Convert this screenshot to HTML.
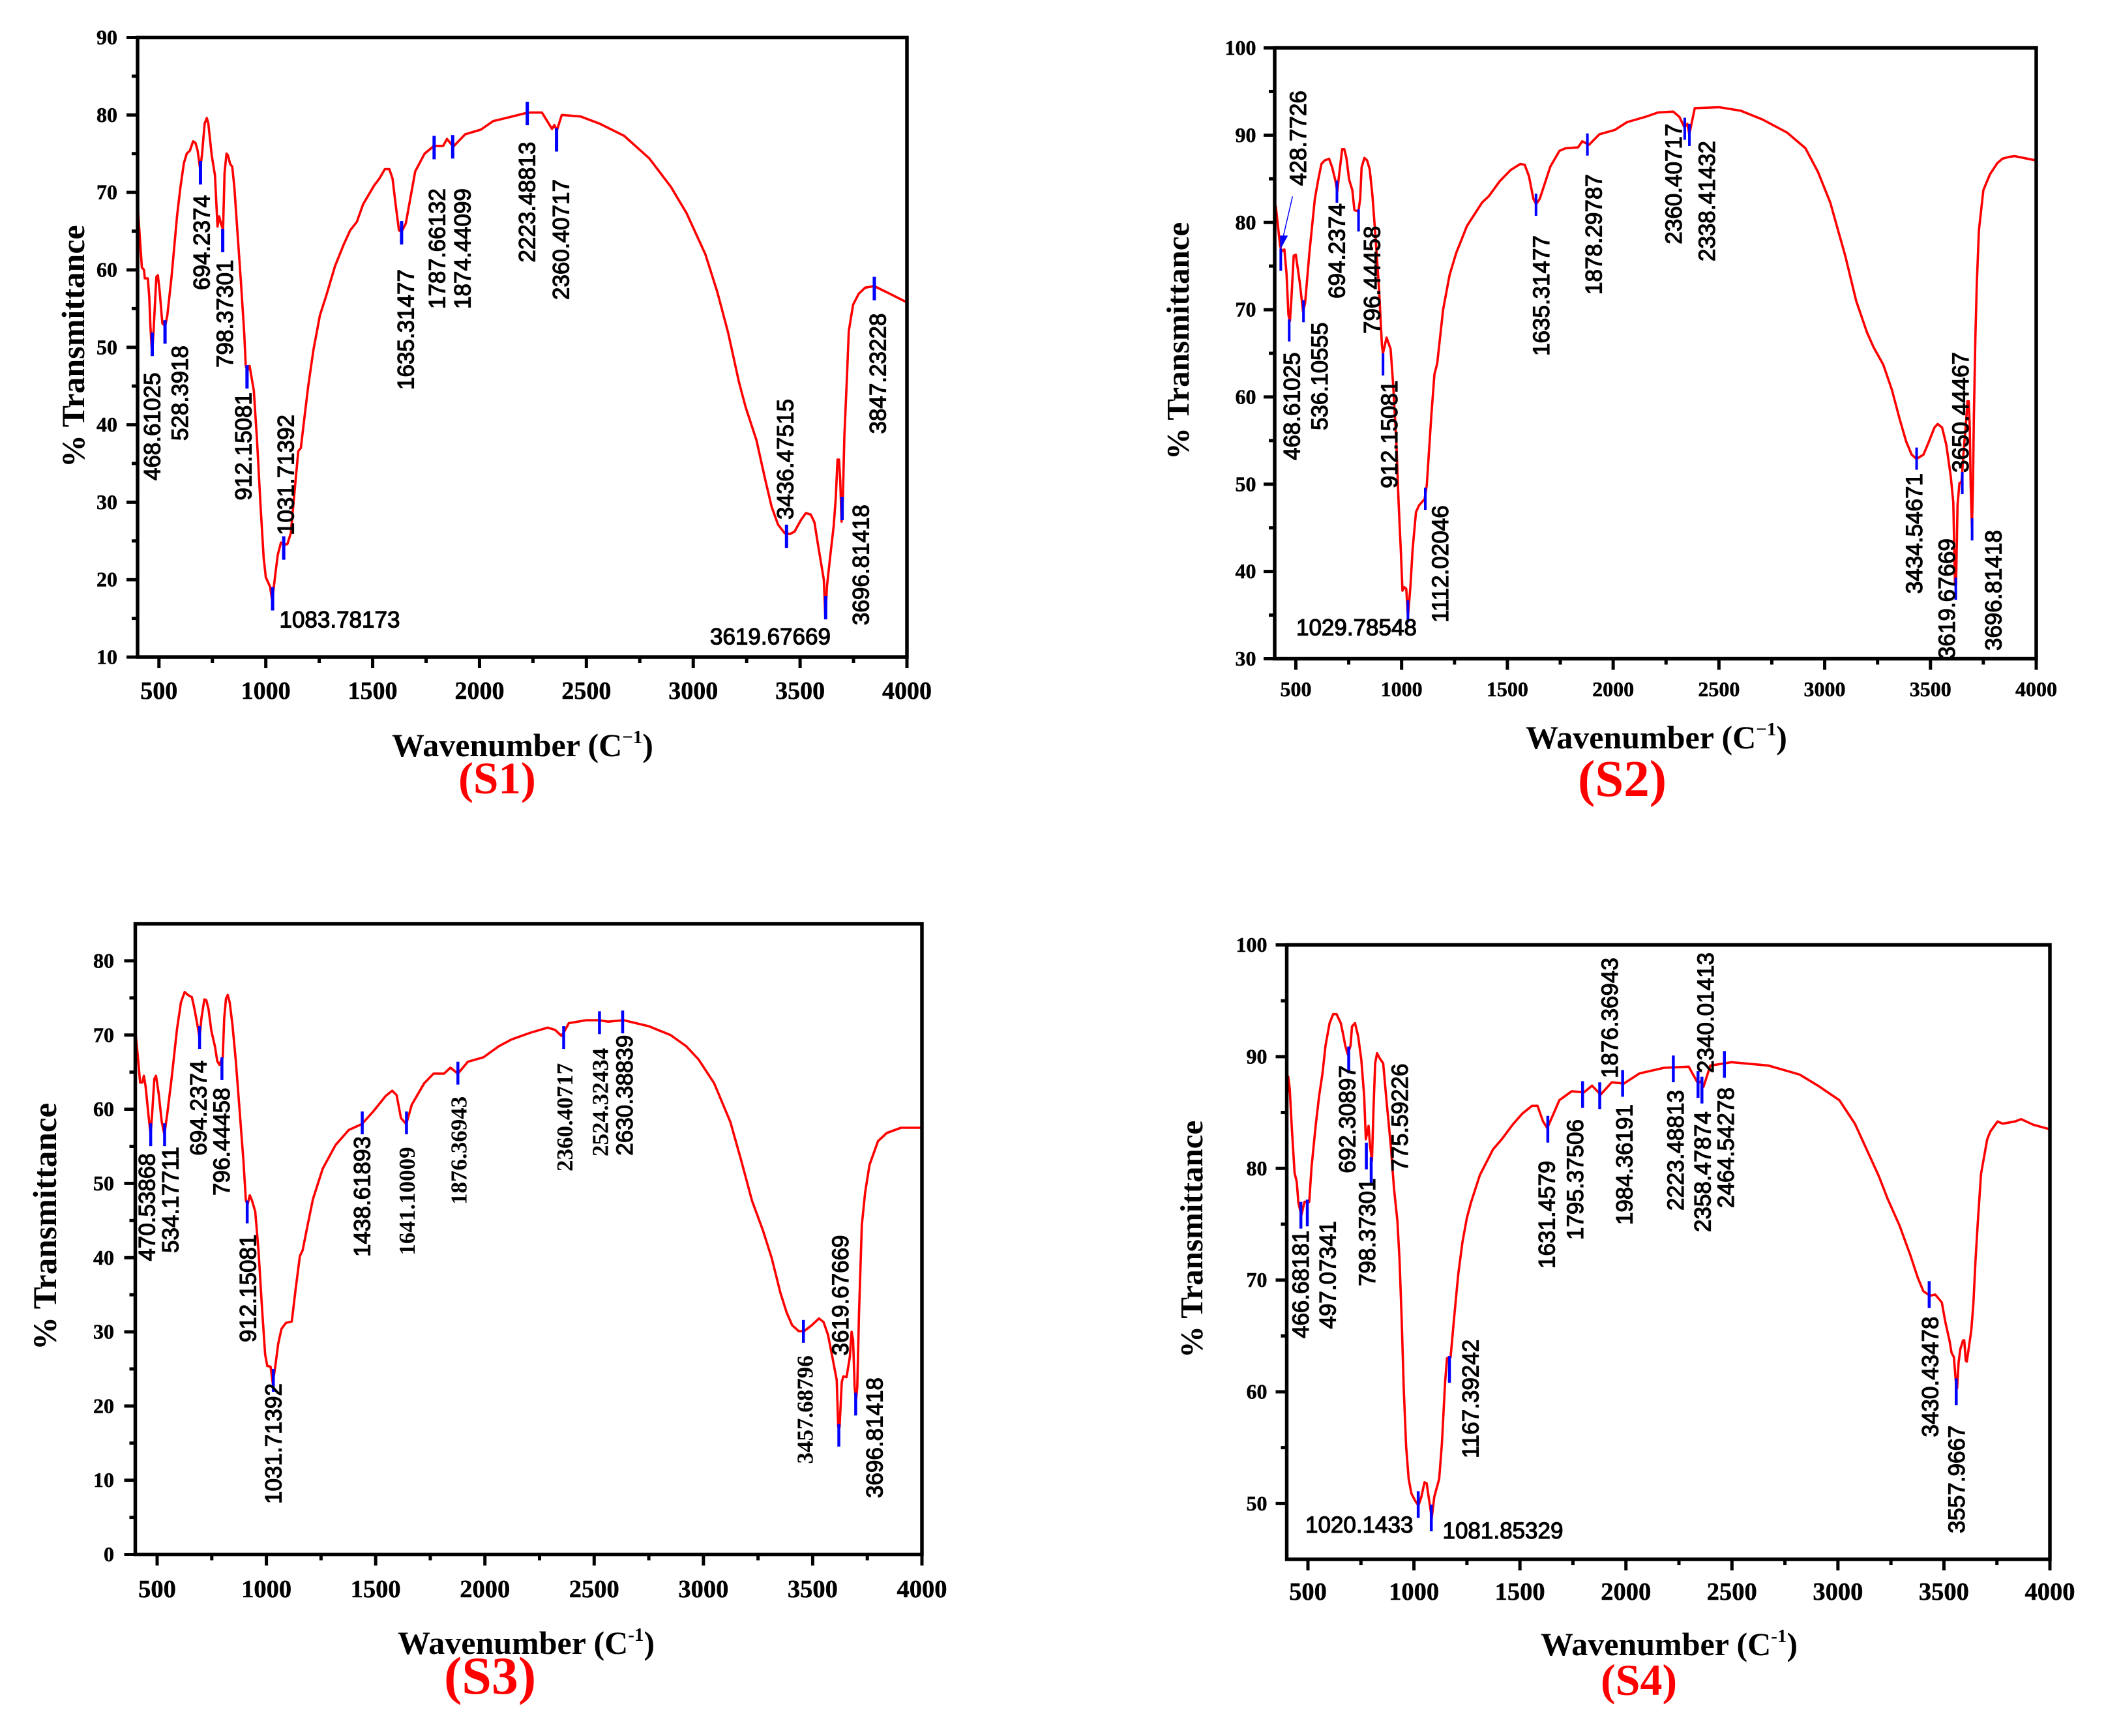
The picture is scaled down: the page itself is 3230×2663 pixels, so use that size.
<!DOCTYPE html>
<html lang="en">
<head>
<meta charset="utf-8">
<title>FTIR spectra S1-S4</title>
<style>
html,body{margin:0;padding:0;background:#fff;}
svg{display:block;}
.serif{font-family:"Liberation Serif",serif;font-weight:bold;}
.sans{font-family:"Liberation Sans",sans-serif;}
.peak-text{font-size:35px;fill:#000;stroke:#000;stroke-width:1.2px;}
.peak-serif{font-family:"Liberation Serif",serif;font-weight:bold;stroke-width:0;}
.ytitle{font-size:49px;fill:#000;}
.xtitle{font-size:50px;fill:#000;}
.panel-title{fill:#f00;}
.tick-text{stroke:#000;stroke-width:.5px;}
</style>
</head>
<body>
<svg id="figure" xmlns="http://www.w3.org/2000/svg" width="3230" height="2663" viewBox="0 0 3230 2663">
  <rect x="0" y="0" width="3230" height="2663" fill="#fff"/>

  <text class="serif ytitle" style="font-size:50px" transform="translate(129,717) rotate(-90)">% Transmittance</text>
  <text class="serif xtitle" x="601" y="1160">Wavenumber (C<tspan dy="-20" font-size="29">−1</tspan><tspan dy="20">)</tspan></text>
  <text class="serif panel-title" x="703" y="1217" font-size="69">(S1)</text>

  <text class="serif ytitle" transform="translate(1823,705) rotate(-90)">% Transmittance</text>
  <text class="serif xtitle" x="2340" y="1148">Wavenumber (C<tspan dy="-20" font-size="29">−1</tspan><tspan dy="20">)</tspan></text>
  <text class="serif panel-title" x="2420" y="1221" font-size="79">(S2)</text>

  <text class="serif ytitle" style="font-size:51px" transform="translate(86,2071) rotate(-90)">% Transmittance</text>
  <text class="serif xtitle" x="610" y="2537">Wavenumber (C<tspan dy="-20" font-size="29">-1</tspan><tspan dy="20">)</tspan></text>
  <text class="serif panel-title" x="681" y="2598" font-size="82">(S3)</text>

  <text class="serif ytitle" transform="translate(1844,2083) rotate(-90)">% Transmittance</text>
  <text class="serif xtitle" x="2363" y="2539">Wavenumber (C<tspan dy="-20" font-size="29">-1</tspan><tspan dy="20">)</tspan></text>
  <text class="serif panel-title" x="2455" y="2600" font-size="68">(S4)</text>
</svg>

<script>
// ---------- shared axis data ----------
const xMajorTicks=[500,1000,1500,2000,2500,3000,3500,4000];
const xMinorTicks=[750,1250,1750,2250,2750,3250,3750];

// ---------- S1 ----------
const s1Wavenumber=[
402,420,430,434,448,455,460,468,476,488,
495,503,516,529,539,559,585,600,617,630,
645,660,671,681,693,701,714,724,731,747,
762,774,782,792,800,807,816,823,833,843,
853,868,883,899,906,914,924,944,959,975,
990,1000,1020,1030,1046,1056,1071,1086,1101,1117,
1132,1152,1164,1182,1198,1223,1253,1284,1324,1365,
1395,1426,1456,1507,1532,1557,1578,1593,1608,1623,
1635,1655,1699,1743,1787,1830,1848,1877,1933,2006,
2064,2152,2225,2292,2339,2350,2362,2385,2473,2560,
2677,2794,2896,2969,3057,3113,3163,3214,3245,3296,
3336,3367,3397,3428,3453,3474,3504,3527,3550,3567,
3585,3611,3618,3626,3641,3657,3667,3675,3682,3688,
3694,3700,3707,3720,3728,3748,3774,3804,3847,3906,4000];
const s1Transmittance=[
67.6,60.3,60,58.9,58.9,56.4,52.7,49,52.7,59.1,
59.3,57.3,53.1,52.7,54.1,59.1,67,70.6,73.8,75,
75.4,76.6,76.4,75.4,73,74.8,78.9,79.6,78.9,74.8,
72.2,65.6,66.9,65.8,65.2,72.5,75,74.8,73.7,73.3,
70.6,64.6,58.7,51.8,47.6,47,47.6,44.4,38,29.7,
22.8,20.3,19.1,17.3,21,23.2,24.8,24.5,24.6,26,
30.6,36.6,37,41.2,44.9,49.7,54.1,56.8,60.5,63.3,
65.1,66.2,68.5,70.9,71.8,73,73,71.8,68.3,65.1,
64.9,66,72.7,75,76,76,76.9,75.9,77.5,78.1,
79.2,79.8,80.3,80.3,78.2,78.7,78,80,79.8,78.9,
77.3,74.4,70.7,67.3,62,57.1,51.9,45.5,42.3,38,
33,29.4,27.1,26,25.9,26.2,27.7,28.6,28.4,27.4,
24.3,20,15.1,19.2,23,26.9,30.5,35.5,35.5,32.8,
27.5,30.5,38.5,46.6,52.1,55.5,56.9,57.7,57.9,57.1,55.8];
const s1PeakWavenumber=[468.61,528.39,694.24,798.37,912.15,1031.71,1083.78,1635.31,1787.66,1874.44,2223.49,2360.41,3436.48,3619.68,3696.81,3847.23];
const s1PeakTop=[51.9,53.5,74.05,65.3,47.7,19.05,25.6,66.3,77.3,77.4,81.7,78.3,27.1,17.9,30.7,59.1];
const s1YTicks=[10,20,30,40,50,60,70,80,90];
const s1YMinorTicks=[15,25,35,45,55,65,75,85];
const s1PeakLabels=["468.61025","528.3918","694.2374","798.37301","912.15081","1031.71392","1635.31477","1787.66132","1874.44099","2223.48813","2360.40717","3436.47515","3696.81418","3847.23228","1083.78173","3619.67669"];
const s1LabelLayout=[[233,737,"r"],[275.5,676,"r"],[309,445,"r"],[344.4,564,"r"],[373,767.5,"r"],[438,821,"r"],[622,598,"r"],[670,474,"r"],[709,474,"r"],[808,402.5,"r"],[860,460,"r"],[1204,797,"r"],[1320,959,"r"],[1346,665.5,"r"],[428.5,962.5,"h"],[1089,988.5,"h"]];

// ---------- S2 ----------
const s2Wavenumber=[
405,426,434,446,456,465,472,479,490,500,
518,534,544,564,590,606,621,636,657,672,
688,696,703,719,729,739,752,767,777,796,
804,811,824,837,849,862,876,893,907,912,
929,948,960,975,986,996,1004,1013,1022,1030,
1042,1052,1068,1083,1109,1119,1140,1155,1168,1196,
1227,1258,1309,1381,1412,1463,1515,1561,1582,1602,
1623,1636,1653,1703,1746,1775,1834,1854,1886,1935,
2008,2066,2153,2212,2284,2313,2337,2351,2360,2386,
2502,2604,2706,2822,2909,2968,3026,3097,3149,3200,
3231,3277,3318,3354,3385,3411,3434,3467,3493,3519,
3534,3555,3575,3596,3608,3616,3621,3628,3637,3647,
3657,3668,3675,3681,3686,3690,3696,3701,3705,3712,
3719,3729,3750,3781,3816,3840,3869,3898,4000];
const s2Transmittance=[
81.9,77.3,76.7,76.9,74.1,69.4,68.7,71.2,76.2,76.3,
73.2,69.8,70.8,76.5,82.7,84.9,86.7,87.1,87.3,86.3,
84.7,83.5,85.1,88.4,88.4,87.4,84.9,83.7,81.4,81.3,
82.7,86.3,87.4,87.1,86.1,83.1,78.6,72.4,65.9,65,
66.8,65.5,61.4,54.8,47.8,42.5,37.8,38.2,38,34.8,
38.4,42.5,46.8,47.6,48.3,49.9,57.7,62.6,63.8,70,
74,76.5,79.6,82.3,83,84.7,86,86.7,86.6,85.3,
82.7,82.1,82.7,86.4,88.2,88.5,88.6,89.3,88.9,90.1,
90.6,91.5,92.1,92.6,92.7,92.1,90.9,91.3,90.1,93.1,
93.2,92.8,91.8,90.3,88.5,85.8,82.3,76.2,71,67.4,
65.7,63.7,60.8,57.5,54.9,53.4,52.9,53.4,54.9,56.5,
56.9,56.5,54.5,50.9,47.9,38.5,38.5,47.6,50.1,50.3,
53.8,57.1,59.5,59.5,56.4,50.1,45,50.1,57.5,66.6,
72.9,79.1,83.7,85.5,86.8,87.3,87.5,87.6,87.1];
const s2PeakWavenumber=[428.77,468.61,536.11,694.24,796.44,912.15,1029.79,1112.02,1635.31,1878.3,2338.41,2360.41,3434.55,3619.68,3650.44,3696.81];
const s2PeakTop=[77,68.9,71.1,84.8,81.5,65,36.7,49.6,83.3,90.2,92,91.3,54.2,39.3,51.4,46.1];
const s2YTicks=[30,40,50,60,70,80,90,100];
const s2YMinorTicks=[35,45,55,65,75,85,95];
const s2PeakLabels=["428.7726","468.61025","536.10555","694.2374","796.44458","912.15081","1112.02046","1635.31477","1878.29787","2360.40717","2338.41432","3434.54671","3619.67669","3650.44467","3696.81418","1029.78548"];
const s2LabelLayout=[[1990.7,285,"r"],[1981,706,"r"],[2023.7,660,"r"],[2050,458,"r"],[2104,512,"r"],[2130.4,749,"r"],[2208.7,955,"r"],[2363.5,546,"r"],[2443.8,452,"r"],[2566.5,374.6,"r"],[2617.4,401,"r"],[2935.5,911,"r"],[2985.6,1011,"r"],[3006.3,725,"r"],[3057,998,"r"],[1988,974.5,"h"]];

// ---------- S3 ----------
const s3Wavenumber=[
402,412,422,432,439,447,460,470,477,487,
495,507,521,533,546,566,591,609,626,641,
659,671,686,694,703,716,725,735,748,765,
775,785,800,807,815,823,832,845,860,880,
895,906,914,924,934,949,964,979,994,1004,
1019,1029,1039,1054,1069,1089,1116,1133,1153,1166,
1188,1213,1258,1317,1377,1437,1486,1546,1576,1596,
1616,1640,1665,1722,1765,1813,1842,1876,1922,1993,
2064,2121,2207,2287,2321,2350,2364,2384,2464,2521,
2564,2635,2749,2849,2921,2978,3049,3123,3173,3222,
3272,3312,3352,3381,3406,3436,3461,3496,3529,3550,
3570,3590,3610,3617,3623,3633,3640,3655,3670,3678,
3685,3692,3698,3704,3712,3725,3740,3760,3799,3839,3904,4000];
const s3Transmittance=[
70,67,63.6,63.6,64.5,63.1,59.3,56.6,59.3,64.1,
64.5,62.1,58.3,56.6,59.3,64.1,70.8,74.4,75.8,75.4,
75.1,73.5,71.1,69.6,72.3,74.8,74.7,73.5,70.6,68.4,
66.5,66,67,72.3,74.9,75.4,74.4,71.3,66.5,58.8,
53,47.7,47.2,48.4,47.7,46.2,40.9,33.7,27,25.4,
25.3,23.1,25,28.4,30.4,31.2,31.4,35.6,40.2,41,
44.3,47.9,52,55.2,57.2,58,59.6,61.8,62.5,61.9,
58.8,58,60.6,63.5,64.8,64.8,65.6,64.8,66.4,67,
68.5,69.4,70.3,71,70.7,69.9,70.5,71.6,72,72,
71.8,72,71.2,70,68.5,66.7,63.5,58.3,53.1,47.7,
43.7,40,35.3,32.6,30.9,30.1,30.1,30.9,31.8,31.3,
29.6,26.6,23.5,17.2,17.2,23.2,24,23.9,26.6,30,
28.9,22.5,20.8,22.5,32.6,44.4,48.8,52.5,55.7,56.8,57.5,57.5];
const s3PeakWavenumber=[470.54,534.18,694.24,796.44,912.15,1031.71,1438.62,1641.1,1876.37,2360.41,2524.32,2630.39,3457.69,3619.68,3696.81];
const s3PeakTop=[58.1,58.1,71.2,67,47.7,25,59.7,59.7,66.4,71.2,73.2,73.3,31.6,17.6,21.8];
const s3YTicks=[0,10,20,30,40,50,60,70,80];
const s3YMinorTicks=[5,15,25,35,45,55,65,75];
const s3PeakLabels=["470.53868","534.17711","694.2374","796.44458","912.15081","1031.71392","1438.61893","1641.10009","1876.36943","2360.40717","2524.32434","2630.38839","3457.68796","3619.67669","3696.81418"];
const s3LabelLayout=[[224.8,1934.6,"r"],[261,1922,"r"],[304,1772.6,"r"],[339.6,1834,"r"],[379.8,2059,"r"],[419,2307,"r"],[554.8,1928,"r"],[623.7,1925.6,"r","serif"],[703,1848,"r","serif"],[865.7,1797,"r","serif"],[920,1774,"r","serif"],[957.6,1772.6,"r"],[1234,2245.5,"r","serif"],[1288.5,2079.4,"r"],[1341,2298,"r"]];

// ---------- S4 ----------
const s4Wavenumber=[
404,407,414,424,437,447,455,469,484,496,
506,517,537,553,568,583,602,619,635,655,
667,676,688,701,708,722,737,752,765,773,
786,793,802,809,817,826,840,855,870,891,
906,922,932,942,952,963,975,988,1004,1021,
1035,1050,1060,1074,1084,1096,1119,1132,1147,1156,
1173,1188,1209,1229,1250,1270,1311,1373,1414,1465,
1511,1557,1583,1609,1629,1686,1744,1802,1840,1881,
1933,1991,2064,2180,2296,2340,2354,2366,2398,2499,
2673,2819,2906,3007,3080,3193,3234,3290,3342,3377,
3403,3434,3459,3490,3506,3526,3536,3547,3557,3562,
3569,3577,3590,3596,3603,3608,3629,3639,3649,3659,
3675,3704,3719,3753,3777,3835,3864,3922,4000];
const s4Transmittance=[
86.8,88.2,87.1,83.6,79.6,78.8,76.9,75.8,77,77,
77,80.1,83.9,86.5,88.4,91,93,93.8,93.8,93,
91.9,91,90.2,91,92.7,93,91.8,89.7,86.5,82.6,
83.8,82,80.7,85.2,89.4,90.3,89.8,89.4,86.2,82,
78.2,75.3,71.8,66.6,60.2,55.1,52.2,50.9,50.3,49.8,
50.6,51.9,51.8,50,48.7,50.6,52.2,55.4,60.9,63,
63.1,66.3,70.5,73.4,75.6,77,79.4,81.7,82.6,83.9,
84.9,85.6,85.6,84.2,83.6,86.1,86.9,86.8,87.4,86.6,
87.7,87.6,88.5,89,89.1,87.6,87.8,87.3,89.2,89.5,
89.2,88.4,87.4,86.1,84,79.3,77.3,74.9,72.2,70.2,
69,68.6,68.7,68,66.3,64.6,63.5,63.1,60.7,60.3,
62.6,63.8,64.6,64.6,62.8,62.7,65.5,67.9,71.8,74.9,
79.5,82.6,83.3,84.2,84,84.2,84.4,83.9,83.5];
const s4PeakWavenumber=[466.68,497.07,692.31,775.59,798.37,1020.14,1081.85,1167.39,1631.46,1795.38,1876.37,1984.36,2223.49,2340.01,2358.48,2464.54,3430.43,3557.97];
const s4PeakTop=[77,77.2,90.9,82.3,81,51.1,49.9,63.2,84.7,87.8,87.7,88.8,90.1,88.7,88.2,90.5,69.9,61.2];
const s4YTicks=[50,60,70,80,90,100];
const s4YMinorTicks=[55,65,75,85,95];
const s4PeakLabels=["466.68181","497.07341","692.30897","798.37301","775.59226","1167.39242","1631.4579","1795.37506","1876.36943","1984.36191","2223.48813","2358.47874","2340.01413","2464.54278","3430.43478","3557.9667","1020.1433","1081.85329"];
const s4LabelLayout=[[1994.5,2053,"r"],[2036,2038.5,"r"],[2066,1799.6,"r"],[2096.4,1973,"r"],[2146.4,1797,"r"],[2255,2237,"r"],[2372,1946,"r"],[2415.4,1902,"r"],[2468.3,1654,"r"],[2491,1879,"r"],[2569.3,1857,"r"],[2611,1890,"r"],[2615.6,1646,"r"],[2646.7,1853,"r"],[2960,2204.5,"r"],[3000.7,2352,"r"],[2002,2351,"h"],[2212.5,2360,"h"]];

// ---------- panel frames (layout only) ----------
const panels=[
 {id:"s1",wn:s1Wavenumber,tr:s1Transmittance,pw:s1PeakWavenumber,pt:s1PeakTop,yt:s1YTicks,ym:s1YMinorTicks,labels:s1PeakLabels,layout:s1LabelLayout,
  left:211,right:1391,top:57.5,bottom:1008,yMin:10,yMax:90,xFont:38,yFont:32,xBase:1072,yRight:180,peakLen:36,peakW:5},
 {id:"s2",wn:s2Wavenumber,tr:s2Transmittance,pw:s2PeakWavenumber,pt:s2PeakTop,yt:s2YTicks,ym:s2YMinorTicks,labels:s2PeakLabels,layout:s2LabelLayout,
  left:1955,right:3123,top:73.5,bottom:1010.5,yMin:30,yMax:100,xFont:32,yFont:32,xBase:1068,yRight:1926.5,peakLen:34,peakW:4},
 {id:"s3",wn:s3Wavenumber,tr:s3Transmittance,pw:s3PeakWavenumber,pt:s3PeakTop,yt:s3YTicks,ym:s3YMinorTicks,labels:s3PeakLabels,layout:s3LabelLayout,
  left:207.5,right:1414,top:1417,bottom:2384.5,yMin:0,yMax:85,xFont:38.5,yFont:32,xBase:2450,yRight:175,peakLen:35,peakW:4.5},
 {id:"s4",wn:s4Wavenumber,tr:s4Transmittance,pw:s4PeakWavenumber,pt:s4PeakTop,yt:s4YTicks,ym:s4YMinorTicks,labels:s4PeakLabels,layout:s4LabelLayout,
  left:1973.5,right:3144,top:1449.5,bottom:2392,yMin:45,yMax:100,xFont:38.5,yFont:32,xBase:2454,yRight:1943.5,peakLen:41,peakW:4.5}
];

const svgNS="http://www.w3.org/2000/svg";
const figure=document.getElementById("figure");
function make(tag,attrs,parent){
  const n=document.createElementNS(svgNS,tag);
  for(const k in attrs){n.setAttribute(k,attrs[k]);}
  parent.appendChild(n);
  return n;
}

panels.forEach(function(p){
  const xOf=function(w){return p.left+(w-400)/3600*(p.right-p.left);};
  const yOf=function(t){return p.bottom-(t-p.yMin)/(p.yMax-p.yMin)*(p.bottom-p.top);};

  const g=make("g",{},figure);
  
  

  // x ticks
  xMajorTicks.forEach(function(v){
    const tick=make("line",{x1:xOf(v),x2:xOf(v),y1:p.bottom,y2:p.bottom+17,stroke:"#000","stroke-width":5},g);
    
    
    const lab=make("text",{x:xOf(v),y:p.xBase,"text-anchor":"middle","class":"serif tick-text","font-size":p.xFont,fill:"#000"},g);
    lab.textContent=String(v);
    
    
  });
  xMinorTicks.forEach(function(v){
    const tick=make("line",{x1:xOf(v),x2:xOf(v),y1:p.bottom,y2:p.bottom+9,stroke:"#000","stroke-width":5},g);
    
    
  });

  // y ticks
  p.yt.forEach(function(v){
    const tick=make("line",{x1:p.left-17,x2:p.left,y1:yOf(v),y2:yOf(v),stroke:"#000","stroke-width":5},g);
    
    
    const lab=make("text",{x:p.yRight,y:yOf(v)+p.yFont*.33,"text-anchor":"end","class":"serif tick-text","font-size":p.yFont,fill:"#000"},g);
    lab.textContent=String(v);
    
    
  });
  p.ym.forEach(function(v){
    const tick=make("line",{x1:p.left-9,x2:p.left,y1:yOf(v),y2:yOf(v),stroke:"#000","stroke-width":5},g);
    
    
  });

  // spectrum
  let d="";
  p.wn.forEach(function(w,i){d+=(i?"L":"M")+xOf(w).toFixed(1)+" "+yOf(p.tr[i]).toFixed(1);});
  const curve=make("path",{d:d,fill:"none",stroke:"#f00","stroke-width":3.6,"stroke-linejoin":"round"},g);
  
  

  // frame
  const frame=make("rect",{x:p.left,y:p.top,width:p.right-p.left,height:p.bottom-p.top,fill:"none",stroke:"#000","stroke-width":5.5},g);
  
  

  // peak markers
  p.pw.forEach(function(w,i){
    const mark=make("line",{x1:xOf(w),x2:xOf(w),y1:yOf(p.pt[i]),y2:yOf(p.pt[i])+p.peakLen,stroke:"#00f","stroke-width":p.peakW},g);
    
    
  });

  // peak labels
  p.labels.forEach(function(txt,i){
    const place=p.layout[i];
    const serif=place[3]==="serif";
    const attrs={"class":"sans peak-text"+(serif?" peak-serif":"")};
    if(place[2]==="r"){attrs.transform="translate("+(place[0]+12.5)+","+place[1]+") rotate(-90)";}
    else{attrs.x=place[0];attrs.y=place[1];}
    const lab=make("text",attrs,g);
    lab.textContent=txt;
    
    
  });

  // S2 arrow from the 428 label to its peak marker
  if(p.id==="s2"){
    const tipX=xOf(p.pw[0])-1;
    const tipY=yOf(p.pt[0])+2;
    const shaft=make("line",{x1:tipX+19,y1:tipY-82,x2:tipX+4,y2:tipY-17,stroke:"#00f","stroke-width":1.5},g);
    
    
    const head=make("polygon",{points:tipX+","+tipY+" "+(tipX+12)+","+(tipY-22)+" "+tipX+","+(tipY-22),fill:"#00f"},g);
    
    
  }
});
</script>
</body>
</html>
